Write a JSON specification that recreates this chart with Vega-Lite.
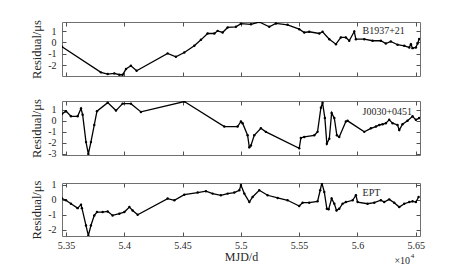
{
  "$schema": "https://vega.github.io/schema/vega-lite/v6.json",
  "background": "white",
  "padding": {"left": 30, "top": 19, "right": 5, "bottom": 2},
  "config": {
    "font": "Liberation Serif",
    "view": {"stroke": "#707070", "strokeWidth": 1},
    "concat": {"spacing": 19},
    "axis": {
      "domain": false, "grid": false,
      "tickColor": "#505050", "tickSize": -4, "tickWidth": 1,
      "labelFont": "Liberation Serif", "labelFontSize": 10, "labelColor": "#262626", "labelPadding": 10,
      "titleFont": "Liberation Serif", "titleFontSize": 12.5, "titleFontWeight": "normal", "titleColor": "#262626"
    }
  },
  "datasets": {
    "series": [
      {"psr":"B1937+21","mjd":53466,"res":-0.38},{"psr":"B1937+21","mjd":53800,"res":-2.63},{"psr":"B1937+21","mjd":53858,"res":-2.78},{"psr":"B1937+21","mjd":53915,"res":-2.72},{"psr":"B1937+21","mjd":53958,"res":-2.84},{"psr":"B1937+21","mjd":53986,"res":-2.84},{"psr":"B1937+21","mjd":54015,"res":-2.34},{"psr":"B1937+21","mjd":54057,"res":-2.05},{"psr":"B1937+21","mjd":54106,"res":-2.49},{"psr":"B1937+21","mjd":54372,"res":-0.96},{"psr":"B1937+21","mjd":54443,"res":-1.26},{"psr":"B1937+21","mjd":54515,"res":-0.88},{"psr":"B1937+21","mjd":54601,"res":-0.29},{"psr":"B1937+21","mjd":54658,"res":0.23},{"psr":"B1937+21","mjd":54715,"res":0.79},{"psr":"B1937+21","mjd":54773,"res":0.79},{"psr":"B1937+21","mjd":54801,"res":1.02},{"psr":"B1937+21","mjd":54844,"res":0.88},{"psr":"B1937+21","mjd":54887,"res":1.32},{"psr":"B1937+21","mjd":54958,"res":1.38},{"psr":"B1937+21","mjd":55001,"res":1.65},{"psr":"B1937+21","mjd":55087,"res":1.6},{"psr":"B1937+21","mjd":55158,"res":1.8},{"psr":"B1937+21","mjd":55244,"res":1.38},{"psr":"B1937+21","mjd":55301,"res":1.67},{"psr":"B1937+21","mjd":55401,"res":1.55},{"psr":"B1937+21","mjd":55501,"res":1.17},{"psr":"B1937+21","mjd":55544,"res":0.88},{"psr":"B1937+21","mjd":55587,"res":0.94},{"psr":"B1937+21","mjd":55673,"res":0.79},{"psr":"B1937+21","mjd":55701,"res":0.94},{"psr":"B1937+21","mjd":55759,"res":0.29},{"psr":"B1937+21","mjd":55816,"res":-0.15},{"psr":"B1937+21","mjd":55858,"res":0.44},{"psr":"B1937+21","mjd":55901,"res":0.44},{"psr":"B1937+21","mjd":55930,"res":0.15},{"psr":"B1937+21","mjd":55973,"res":0.96},{"psr":"B1937+21","mjd":55987,"res":0.29},{"psr":"B1937+21","mjd":56059,"res":0.29},{"psr":"B1937+21","mjd":56130,"res":0.15},{"psr":"B1937+21","mjd":56201,"res":0.15},{"psr":"B1937+21","mjd":56244,"res":-0.09},{"psr":"B1937+21","mjd":56287,"res":0.09},{"psr":"B1937+21","mjd":56344,"res":-0.2},{"psr":"B1937+21","mjd":56402,"res":-0.29},{"psr":"B1937+21","mjd":56445,"res":-0.44},{"psr":"B1937+21","mjd":56459,"res":-0.15},{"psr":"B1937+21","mjd":56473,"res":-0.5},{"psr":"B1937+21","mjd":56502,"res":-0.44},{"psr":"B1937+21","mjd":56516,"res":-0.09},{"psr":"B1937+21","mjd":56530,"res":0.3},
      {"psr":"J0030+0451","mjd":53466,"res":0.63},{"psr":"J0030+0451","mjd":53500,"res":0.88},{"psr":"J0030+0451","mjd":53543,"res":0.41},{"psr":"J0030+0451","mjd":53600,"res":0.41},{"psr":"J0030+0451","mjd":53629,"res":1.12},{"psr":"J0030+0451","mjd":53643,"res":0.56},{"psr":"J0030+0451","mjd":53672,"res":-1.93},{"psr":"J0030+0451","mjd":53692,"res":-3.0},{"psr":"J0030+0451","mjd":53714,"res":-1.93},{"psr":"J0030+0451","mjd":53743,"res":-0.37},{"psr":"J0030+0451","mjd":53766,"res":0.88},{"psr":"J0030+0451","mjd":53858,"res":1.65},{"psr":"J0030+0451","mjd":53929,"res":0.93},{"psr":"J0030+0451","mjd":53986,"res":1.56},{"psr":"J0030+0451","mjd":54057,"res":1.56},{"psr":"J0030+0451","mjd":54143,"res":0.81},{"psr":"J0030+0451","mjd":54515,"res":1.75},{"psr":"J0030+0451","mjd":54858,"res":-0.52},{"psr":"J0030+0451","mjd":54972,"res":-0.52},{"psr":"J0030+0451","mjd":55001,"res":-0.06},{"psr":"J0030+0451","mjd":55015,"res":-0.21},{"psr":"J0030+0451","mjd":55058,"res":-1.31},{"psr":"J0030+0451","mjd":55073,"res":-2.4},{"psr":"J0030+0451","mjd":55087,"res":-2.24},{"psr":"J0030+0451","mjd":55115,"res":-1.31},{"psr":"J0030+0451","mjd":55172,"res":-0.68},{"psr":"J0030+0451","mjd":55215,"res":-1.0},{"psr":"J0030+0451","mjd":55501,"res":-2.49},{"psr":"J0030+0451","mjd":55515,"res":-1.55},{"psr":"J0030+0451","mjd":55544,"res":-1.46},{"psr":"J0030+0451","mjd":55630,"res":-1.31},{"psr":"J0030+0451","mjd":55658,"res":-1.0},{"psr":"J0030+0451","mjd":55687,"res":1.19},{"psr":"J0030+0451","mjd":55701,"res":1.65},{"psr":"J0030+0451","mjd":55721,"res":0.25},{"psr":"J0030+0451","mjd":55738,"res":-2.08},{"psr":"J0030+0451","mjd":55759,"res":-1.62},{"psr":"J0030+0451","mjd":55779,"res":0.72},{"psr":"J0030+0451","mjd":55802,"res":0.25},{"psr":"J0030+0451","mjd":55824,"res":-1.31},{"psr":"J0030+0451","mjd":55844,"res":-1.46},{"psr":"J0030+0451","mjd":55901,"res":-0.06},{"psr":"J0030+0451","mjd":55916,"res":0.0},{"psr":"J0030+0451","mjd":56059,"res":-1.0},{"psr":"J0030+0451","mjd":56116,"res":-0.68},{"psr":"J0030+0451","mjd":56159,"res":-0.52},{"psr":"J0030+0451","mjd":56188,"res":-0.37},{"psr":"J0030+0451","mjd":56216,"res":-0.31},{"psr":"J0030+0451","mjd":56244,"res":-0.21},{"psr":"J0030+0451","mjd":56273,"res":0.09},{"psr":"J0030+0451","mjd":56302,"res":-0.21},{"psr":"J0030+0451","mjd":56344,"res":-0.37},{"psr":"J0030+0451","mjd":56359,"res":-0.84},{"psr":"J0030+0451","mjd":56387,"res":-0.31},{"psr":"J0030+0451","mjd":56430,"res":0.0},{"psr":"J0030+0451","mjd":56473,"res":0.41},{"psr":"J0030+0451","mjd":56502,"res":0.09},{"psr":"J0030+0451","mjd":56530,"res":0.25},
      {"psr":"EPT","mjd":53466,"res":0.07},{"psr":"EPT","mjd":53500,"res":-0.04},{"psr":"EPT","mjd":53543,"res":-0.27},{"psr":"EPT","mjd":53600,"res":-0.56},{"psr":"EPT","mjd":53629,"res":-0.33},{"psr":"EPT","mjd":53637,"res":-0.56},{"psr":"EPT","mjd":53672,"res":-1.71},{"psr":"EPT","mjd":53692,"res":-2.38},{"psr":"EPT","mjd":53714,"res":-1.71},{"psr":"EPT","mjd":53743,"res":-1.04},{"psr":"EPT","mjd":53766,"res":-0.82},{"psr":"EPT","mjd":53815,"res":-0.82},{"psr":"EPT","mjd":53858,"res":-0.78},{"psr":"EPT","mjd":53900,"res":-1.04},{"psr":"EPT","mjd":53958,"res":-0.93},{"psr":"EPT","mjd":54001,"res":-0.82},{"psr":"EPT","mjd":54044,"res":-0.49},{"psr":"EPT","mjd":54072,"res":-0.71},{"psr":"EPT","mjd":54115,"res":-1.0},{"psr":"EPT","mjd":54372,"res":0.07},{"psr":"EPT","mjd":54430,"res":-0.04},{"psr":"EPT","mjd":54515,"res":0.33},{"psr":"EPT","mjd":54630,"res":0.47},{"psr":"EPT","mjd":54701,"res":0.56},{"psr":"EPT","mjd":54758,"res":0.4},{"psr":"EPT","mjd":54829,"res":0.29},{"psr":"EPT","mjd":54887,"res":0.4},{"psr":"EPT","mjd":54944,"res":0.47},{"psr":"EPT","mjd":54987,"res":0.62},{"psr":"EPT","mjd":55001,"res":0.96},{"psr":"EPT","mjd":55030,"res":0.4},{"psr":"EPT","mjd":55073,"res":-0.16},{"psr":"EPT","mjd":55101,"res":0.18},{"psr":"EPT","mjd":55158,"res":0.62},{"psr":"EPT","mjd":55230,"res":0.29},{"psr":"EPT","mjd":55316,"res":0.11},{"psr":"EPT","mjd":55401,"res":-0.04},{"psr":"EPT","mjd":55501,"res":-0.42},{"psr":"EPT","mjd":55530,"res":-0.2},{"psr":"EPT","mjd":55587,"res":-0.2},{"psr":"EPT","mjd":55658,"res":-0.11},{"psr":"EPT","mjd":55681,"res":0.62},{"psr":"EPT","mjd":55695,"res":1.1},{"psr":"EPT","mjd":55716,"res":0.51},{"psr":"EPT","mjd":55738,"res":-0.6},{"psr":"EPT","mjd":55753,"res":-0.64},{"psr":"EPT","mjd":55779,"res":0.07},{"psr":"EPT","mjd":55802,"res":-0.27},{"psr":"EPT","mjd":55821,"res":-0.71},{"psr":"EPT","mjd":55844,"res":-0.6},{"psr":"EPT","mjd":55873,"res":-0.27},{"psr":"EPT","mjd":55901,"res":-0.16},{"psr":"EPT","mjd":55959,"res":-0.04},{"psr":"EPT","mjd":55987,"res":0.29},{"psr":"EPT","mjd":56002,"res":-0.16},{"psr":"EPT","mjd":56087,"res":-0.27},{"psr":"EPT","mjd":56145,"res":-0.2},{"psr":"EPT","mjd":56201,"res":-0.04},{"psr":"EPT","mjd":56230,"res":-0.16},{"psr":"EPT","mjd":56273,"res":0.02},{"psr":"EPT","mjd":56316,"res":-0.2},{"psr":"EPT","mjd":56359,"res":-0.49},{"psr":"EPT","mjd":56402,"res":-0.27},{"psr":"EPT","mjd":56445,"res":-0.16},{"psr":"EPT","mjd":56473,"res":-0.11},{"psr":"EPT","mjd":56502,"res":-0.16},{"psr":"EPT","mjd":56525,"res":0.18}
    ],
    "labels": [
      {"psr":"B1937+21","mjd":56044,"res":1.05,"text":"B1937+21"},
      {"psr":"J0030+0451","mjd":56044,"res":0.81,"text":"J0030+0451"},
      {"psr":"EPT","mjd":56044,"res":0.47,"text":"EPT"}
    ],
    "exponent": [
      {"mjd":56452,"res":-4.07,"text":"×10","size":"big"},
      {"mjd":56458,"res":-3.75,"text":"4","size":"small"}
    ]
  },
  "vconcat": [
    {
      "width": 358, "height": 54,
      "layer": [
        {
          "data": {"name": "series"},
          "transform": [{"filter": "datum.psr === 'B1937+21'"}],
          "mark": {"type": "line", "color": "black", "strokeWidth": 1.3, "clip": true, "point": {"filled": true, "size": 6, "color": "black"}},
          "encoding": {
            "x": {"field": "mjd", "type": "quantitative", "scale": {"domain": [53466, 56537], "nice": false}, "axis": {"orient": "bottom", "values": [53500,54000,54500,55000,55500,56000,56500], "labels": false, "title": null}},
            "y": {"field": "res", "type": "quantitative", "scale": {"domain": [-2.95, 1.8], "nice": false, "zero": false}, "axis": {"orient": "left", "values": [1,0,-1,-2], "labelExpr": "'' + datum.value", "title": "Residual/μs"}}
          }
        },
        {
          "data": {"name": "labels"},
          "transform": [{"filter": "datum.psr === 'B1937+21'"}],
          "mark": {"type": "text", "align": "left", "baseline": "middle", "fontSize": 10, "color": "#262626", "font": "Liberation Serif"},
          "encoding": {
            "x": {"field": "mjd", "type": "quantitative", "axis": {"orient": "top", "values": [53500,54000,54500,55000,55500,56000,56500], "labels": false, "title": null}},
            "y": {"field": "res", "type": "quantitative", "axis": {"orient": "right", "values": [1,0,-1,-2], "labels": false, "title": null}},
            "text": {"field": "text"}
          }
        }
      ]
    },
    {
      "width": 358, "height": 54,
      "layer": [
        {
          "data": {"name": "series"},
          "transform": [{"filter": "datum.psr === 'J0030+0451'"}],
          "mark": {"type": "line", "color": "black", "strokeWidth": 1.3, "clip": true, "point": {"filled": true, "size": 6, "color": "black"}},
          "encoding": {
            "x": {"field": "mjd", "type": "quantitative", "scale": {"domain": [53466, 56537], "nice": false}, "axis": {"orient": "bottom", "values": [53500,54000,54500,55000,55500,56000,56500], "labels": false, "title": null}},
            "y": {"field": "res", "type": "quantitative", "scale": {"domain": [-3.1, 1.8], "nice": false, "zero": false}, "axis": {"orient": "left", "values": [1,0,-1,-2,-3], "labelExpr": "'' + datum.value", "title": "Residual/μs"}}
          }
        },
        {
          "data": {"name": "labels"},
          "transform": [{"filter": "datum.psr === 'J0030+0451'"}],
          "mark": {"type": "text", "align": "left", "baseline": "middle", "fontSize": 10, "color": "#262626", "font": "Liberation Serif"},
          "encoding": {
            "x": {"field": "mjd", "type": "quantitative", "axis": {"orient": "top", "values": [53500,54000,54500,55000,55500,56000,56500], "labels": false, "title": null}},
            "y": {"field": "res", "type": "quantitative", "axis": {"orient": "right", "values": [1,0,-1,-2,-3], "labels": false, "title": null}},
            "text": {"field": "text"}
          }
        }
      ]
    },
    {
      "width": 358, "height": 53,
      "layer": [
        {
          "data": {"name": "series"},
          "transform": [{"filter": "datum.psr === 'EPT'"}],
          "mark": {"type": "line", "color": "black", "strokeWidth": 1.3, "clip": true, "point": {"filled": true, "size": 6, "color": "black"}},
          "encoding": {
            "x": {"field": "mjd", "type": "quantitative", "scale": {"domain": [53466, 56537], "nice": false}, "axis": {"orient": "bottom", "values": [53500,54000,54500,55000,55500,56000,56500], "labelExpr": "format(datum.value / 10000, '.3~f')", "labelPadding": 8, "title": "MJD/d", "titlePadding": 1, "titleFontSize": 12}},
            "y": {"field": "res", "type": "quantitative", "scale": {"domain": [-2.4, 1.1], "nice": false, "zero": false}, "axis": {"orient": "left", "values": [1,0,-1,-2], "labelExpr": "'' + datum.value", "title": "Residual/μs"}}
          }
        },
        {
          "data": {"name": "labels"},
          "transform": [{"filter": "datum.psr === 'EPT'"}],
          "mark": {"type": "text", "align": "left", "baseline": "middle", "fontSize": 10, "color": "#262626", "font": "Liberation Serif"},
          "encoding": {
            "x": {"field": "mjd", "type": "quantitative", "axis": {"orient": "top", "values": [53500,54000,54500,55000,55500,56000,56500], "labels": false, "title": null}},
            "y": {"field": "res", "type": "quantitative", "axis": {"orient": "right", "values": [1,0,-1,-2], "labels": false, "title": null}},
            "text": {"field": "text"}
          }
        },
        {
          "data": {"name": "exponent"},
          "transform": [{"filter": "datum.size === 'big'"}],
          "mark": {"type": "text", "align": "right", "baseline": "middle", "fontSize": 10, "color": "#262626", "font": "Liberation Serif"},
          "encoding": {
            "x": {"field": "mjd", "type": "quantitative", "axis": null},
            "y": {"field": "res", "type": "quantitative", "axis": null},
            "text": {"field": "text"}
          }
        },
        {
          "data": {"name": "exponent"},
          "transform": [{"filter": "datum.size === 'small'"}],
          "mark": {"type": "text", "align": "left", "baseline": "middle", "fontSize": 7, "color": "#262626", "font": "Liberation Serif"},
          "encoding": {
            "x": {"field": "mjd", "type": "quantitative", "axis": null},
            "y": {"field": "res", "type": "quantitative", "axis": null},
            "text": {"field": "text"}
          }
        }
      ]
    }
  ]
}
